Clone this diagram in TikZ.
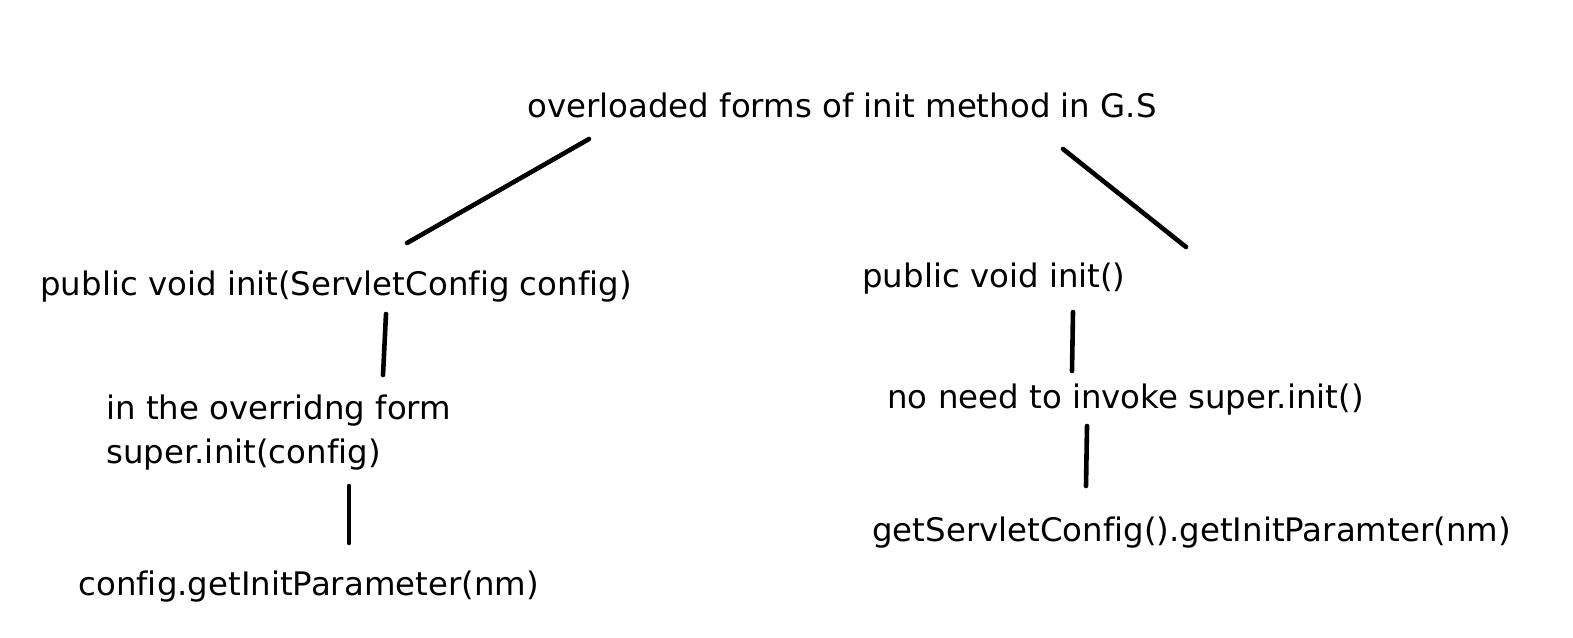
\documentclass[tikz,border=0pt]{standalone}
\usepackage{fontspec}
\setmainfont[Ligatures={NoCommon}]{DejaVu Sans}
\begin{document}
\begin{tikzpicture}[x=0.5pt,y=-0.5pt,
  lbl/.style={anchor=base west,inner sep=0pt,font=\fontsize{16.2}{22}\selectfont,align=left},
  link/.style={line width=2.3pt,line cap=round}]
\useasboundingbox (0,0) rectangle (1573,637);
\node[lbl] (top) at (527,117) {overloaded forms of init method in G.S};
\node[lbl] (l1) at (40,295) {public void init(ServletConfig config)};
\node[lbl] (r1) at (862,287) {public void init()};
\node[lbl,anchor=north west] (l2) at (106,394) {in the overridng form\\super.init(config)};
\node[lbl] (r2) at (887,408) {no need to invoke super.init()};
\node[lbl] (l3) at (78,595) {config.getInitParameter(nm)};
\node[lbl] (r3) at (872,541) {getServletConfig().getInitParamter(nm)};
\coordinate (a1) at (589,139); \coordinate (b1) at (407,243);
\coordinate (a2) at (1063,149); \coordinate (b2) at (1186,247);
\coordinate (a3) at (386,314); \coordinate (b3) at (383,375);
\coordinate (a4) at (1073,312); \coordinate (b4) at (1072,371);
\coordinate (a5) at (349,486); \coordinate (b5) at (349,543);
\coordinate (a6) at (1087,426); \coordinate (b6) at (1086,486);
\draw[link] (a1) -- (b1);
\draw[link] (a2) -- (b2);
\draw[link] (a3) -- (b3);
\draw[link] (a4) -- (b4);
\draw[link] (a5) -- (b5);
\draw[link] (a6) -- (b6);
\end{tikzpicture}
\end{document}
